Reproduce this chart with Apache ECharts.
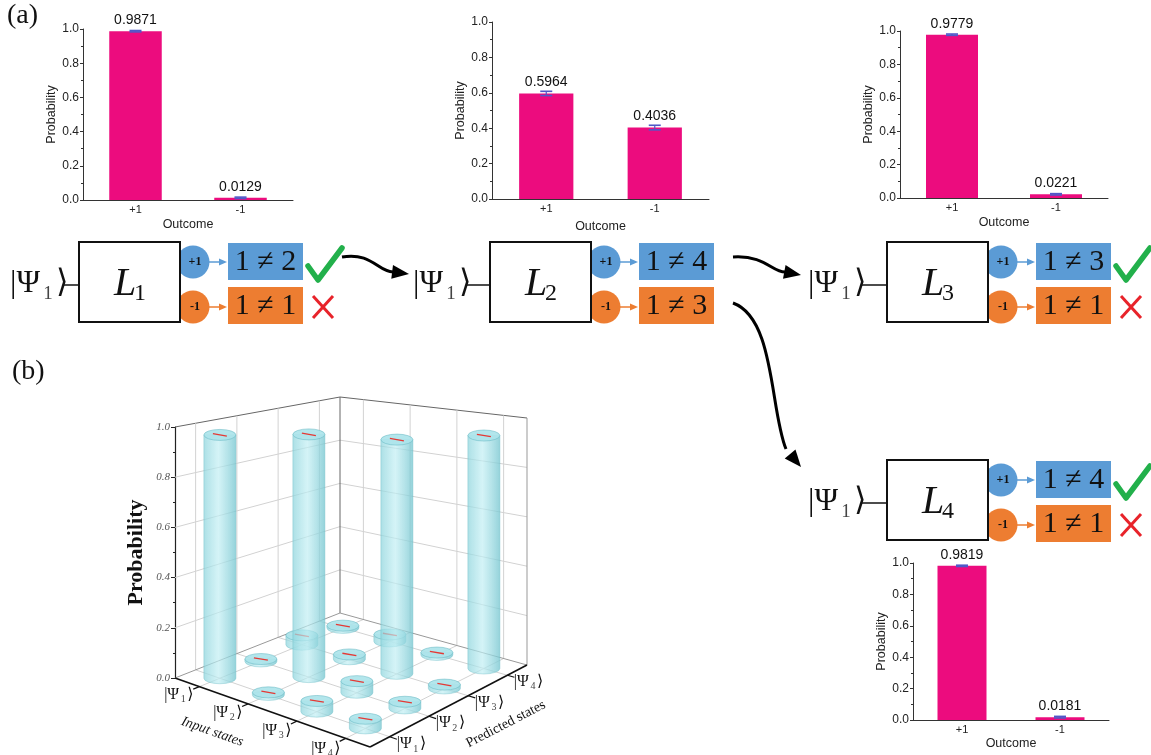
<!DOCTYPE html>
<html>
<head>
<meta charset="utf-8">
<title>Probability</title>
<script src="https://cdn.jsdelivr.net/npm/echarts/dist/echarts.min.js"></script>
<style>
  html, body { margin: 0; padding: 0; background: #fff; }
  #main { width: 1151px; height: 755px; }
</style>
</head>
<body>
<div id="main"></div>
<script>
// (a) outcome of each measurement L1..L4
var outcomes = ['+1', '-1'];
var probL1 = [0.9871, 0.0129];
var probL2 = [0.5964, 0.4036];
var probL3 = [0.9779, 0.0221];
var probL4 = [0.9819, 0.0181];
var errL1 = [0.004, 0.004];
var errL2 = [0.012, 0.013];
var errL3 = [0.004, 0.004];
var errL4 = [0.004, 0.005];
var probTicks = [0, 0.2, 0.4, 0.6, 0.8, 1.0];

// (b) input state (row) -> predicted state (column)
var inputStates = ['1', '2', '3', '4'];
var predictedStates = ['1', '2', '3', '4'];
var probRow1 = [0.97, 0.01, 0.04, 0.01];
var probRow2 = [0.01, 0.97, 0.02, 0.03];
var probRow3 = [0.04, 0.045, 0.94, 0.01];
var probRow4 = [0.035, 0.025, 0.015, 0.94];

var SANS = 'Liberation Sans, Arial, sans-serif';
var SERIF = 'Liberation Serif, DejaVu Serif, serif';
var PINK = '#EC0C7E';
var BLUE = '#5B9BD5';
var ORANGE = '#ED7D31';

// small bar charts, pixel boxes
var barGrids = [
  {left: 83, top: 29, width: 210, height: 171},
  {left: 492, top: 22, width: 217, height: 177},
  {left: 900, top: 31, width: 208, height: 167},
  {left: 913, top: 563, width: 196, height: 157}
];
var outcomeGaps = [18, 21, 18, 17];

// floor of the 3d plot (corners of the perspective quad)
var floorL = [175, 678], floorF = [370, 747], floorR = [527, 665], floorB = [340, 613];
var unitPx = {L: 251, F: 285, R: 247, B: 216};

function quad(u, v, a, b, c, d) {
  var s = u / 4, t = v / 4;
  return (1 - s) * (1 - t) * a + s * (1 - t) * b + s * t * c + (1 - s) * t * d;
}
function floorPt(u, v) {
  return [quad(u, v, floorL[0], floorF[0], floorR[0], floorB[0]),
          quad(u, v, floorL[1], floorF[1], floorR[1], floorB[1])];
}
function unitRatio(u, v) {
  return quad(u, v, unitPx.L, unitPx.F, unitPx.R, unitPx.B) / unitPx.L;
}

var measureCtx = document.createElement('canvas').getContext('2d');
function textW(str, font) {
  measureCtx.font = font;
  return measureCtx.measureText(str).width;
}

// |Ψ_n⟩ as separate pieces so the index sits low like a real subscript
function ketParts(x, y, size, sub, centered) {
  var fb = size + 'px ' + SERIF, fs = Math.round(size * 0.6) + 'px ' + SERIF;
  var gap = size * 0.1;
  var w1 = textW('|Ψ', fb), w2 = textW(sub, fs), w3 = textW('⟩', fb);
  var x0 = centered ? x - (w1 + w2 + w3 + 2 * gap) / 2 : x;
  return [
    {type: 'text', x: x0, y: y, style: {text: '|Ψ', font: fb, fill: '#111', align: 'left', verticalAlign: 'middle'}},
    {type: 'text', x: x0 + w1 + gap, y: y + size * 0.3, style: {text: sub, font: fs, fill: '#444', align: 'left', verticalAlign: 'middle'}},
    {type: 'text', x: x0 + w1 + w2 + 2 * gap, y: y, style: {text: '⟩', font: fb, fill: '#111', align: 'left', verticalAlign: 'middle'}}
  ];
}

function barXAxis(k) {
  return {
    gridIndex: k, type: 'category', data: outcomes,
    axisLine: {lineStyle: {color: '#333'}},
    axisTick: {alignWithLabel: true, length: 3, lineStyle: {color: '#333'}},
    axisLabel: {fontSize: 11, color: '#222', margin: 4, fontFamily: SANS},
    name: 'Outcome', nameLocation: 'middle', nameGap: outcomeGaps[k],
    nameTextStyle: {fontSize: 12.5, color: '#222', fontFamily: SANS}
  };
}
function barYAxis(k) {
  return {
    gridIndex: k, type: 'value', min: probTicks[0], max: probTicks[probTicks.length - 1],
    interval: probTicks[1] - probTicks[0],
    axisLine: {show: true, lineStyle: {color: '#333'}},
    axisTick: {show: true, length: 3, lineStyle: {color: '#333'}},
    minorTick: {show: true, splitNumber: 2, length: 2, lineStyle: {color: '#333'}},
    splitLine: {show: false},
    axisLabel: {fontSize: 12, color: '#222', margin: 4, fontFamily: SANS,
      formatter: function (v) { return v.toFixed(1); }},
    name: 'Probability', nameLocation: 'middle', nameGap: 25,
    nameTextStyle: {fontSize: 12.5, color: '#222', fontFamily: SANS}
  };
}
function barSeries(k, probs) {
  return {
    type: 'bar', xAxisIndex: k, yAxisIndex: k, data: probs, barWidth: '50%',
    itemStyle: {color: PINK},
    label: {show: true, position: 'top', distance: 4, fontSize: 14, color: '#111', fontFamily: SANS,
      formatter: function (p) { return p.value.toFixed(4); }}
  };
}
function renderErr(params, api) {
  var x = api.value(0), y = api.value(1), e = api.value(2);
  var hi = api.coord([x, y + e]), lo = api.coord([x, y - e]);
  var c = '#4F58C8', w = 6;
  return {type: 'group', children: [
    {type: 'line', shape: {x1: hi[0], y1: hi[1], x2: lo[0], y2: lo[1]}, style: {stroke: c, lineWidth: 1.2}},
    {type: 'line', shape: {x1: hi[0] - w, y1: hi[1], x2: hi[0] + w, y2: hi[1]}, style: {stroke: c, lineWidth: 1.6}},
    {type: 'line', shape: {x1: lo[0] - w, y1: lo[1], x2: lo[0] + w, y2: lo[1]}, style: {stroke: c, lineWidth: 1.6}}
  ]};
}
function errSeries(k, probs, errs) {
  return {
    type: 'custom', xAxisIndex: k, yAxisIndex: k, z: 3,
    data: probs.map(function (p, i) { return [i, p, errs[i]]; }),
    renderItem: renderErr
  };
}

// 3d frame: walls, floor grid, state labels
function renderFrame(params, api) {
  var H = api.size([0, 1])[1];
  function p3(u, v, p) { var f = floorPt(u, v); return [f[0], f[1] - p * H * unitRatio(u, v)]; }
  var kids = [];
  function seg(a, b, color, w) {
    kids.push({type: 'line', shape: {x1: a[0], y1: a[1], x2: b[0], y2: b[1]}, style: {stroke: color, lineWidth: w}});
  }
  var gridC = '#d2d2d2', edge = '#666';
  probTicks.forEach(function (p) {
    if (p === 0) return;
    var c = p === 1 ? edge : gridC;
    seg(p3(0, 0, p), p3(0, 4, p), c, 1);
    seg(p3(0, 4, p), p3(4, 4, p), c, 1);
  });
  for (var k = 0; k < 4; k++) {
    var c = k + 0.5;
    seg(p3(0, c, 0), p3(0, c, 1), gridC, 1);
    seg(p3(c, 4, 0), p3(c, 4, 1), gridC, 1);
    seg(p3(c, 0, 0), p3(c, 4, 0), gridC, 1);
    seg(p3(0, c, 0), p3(4, c, 0), gridC, 1);
    seg(p3(c, 0, 0), p3(c, -0.15, 0), '#111', 1.2);
    seg(p3(4, c, 0), p3(4.15, c, 0), '#111', 1.2);
  }
  seg(p3(0, 4, 0), p3(0, 4, 1), edge, 1);
  seg(p3(4, 4, 0), p3(4, 4, 1), '#999', 1);
  seg(p3(0, 0, 0), p3(0, 4, 0), '#999', 1);
  seg(p3(0, 4, 0), p3(4, 4, 0), '#999', 1);
  seg(p3(0, 0, 0), p3(4, 0, 0), '#111', 1.6);
  seg(p3(4, 0, 0), p3(4, 4, 0), '#111', 1.6);

  inputStates.forEach(function (lab, i) {
    var q = p3(i + 0.5, -0.5, 0);
    kids = kids.concat(ketParts(q[0], q[1], 16, lab, true));
  });
  predictedStates.forEach(function (lab, j) {
    var q = p3(4.45, j + 0.5, 0);
    kids = kids.concat(ketParts(q[0], q[1], 16, lab, true));
  });
  var qi = p3(1.8, -1.25, 0), qp = p3(5.2, 2.0, 0);
  kids.push({type: 'text', x: qi[0], y: qi[1], rotation: -0.34,
    style: {text: 'Input states', align: 'center', verticalAlign: 'middle', font: 'italic 14px ' + SERIF, fill: '#111'}});
  kids.push({type: 'text', x: qp[0], y: qp[1], rotation: 0.48,
    style: {text: 'Predicted states', align: 'center', verticalAlign: 'middle', font: '14px ' + SERIF, fill: '#111'}});
  return {type: 'group', children: kids};
}

// cylinders, drawn back to front
var probMatrix = [probRow1, probRow2, probRow3, probRow4];
var cylData = [];
probMatrix.forEach(function (row, i) {
  row.forEach(function (p, j) { cylData.push([i, j, p]); });
});
cylData.sort(function (a, b) { return floorPt(a[0] + 0.5, a[1] + 0.5)[1] - floorPt(b[0] + 0.5, b[1] + 0.5)[1]; });

function renderCylinder(params, api) {
  var u = api.value(0) + 0.5, v = api.value(1) + 0.5, p = api.value(2);
  var base = floorPt(u, v);
  var h = api.size([0, p])[1] * unitRatio(u, v);
  var cx = base[0], by = base[1], ty = by - h;
  var rx = 16, ry = 5.5, z = params.dataIndex * 10;
  var body = 'M' + (cx - rx) + ' ' + ty + ' L' + (cx + rx) + ' ' + ty + ' L' + (cx + rx) + ' ' + by +
    ' A' + rx + ' ' + ry + ' 0 0 1 ' + (cx - rx) + ' ' + by + ' Z';
  var top = 'M' + (cx - rx) + ' ' + ty + ' A' + rx + ' ' + ry + ' 0 1 0 ' + (cx + rx) + ' ' + ty +
    ' A' + rx + ' ' + ry + ' 0 1 0 ' + (cx - rx) + ' ' + ty + ' Z';
  var grad = new echarts.graphic.LinearGradient(0, 0, 1, 0, [
    {offset: 0, color: 'rgba(140,212,220,0.72)'},
    {offset: 0.45, color: 'rgba(192,238,243,0.68)'},
    {offset: 1, color: 'rgba(118,198,208,0.78)'}
  ]);
  return {type: 'group', children: [
    {type: 'path', z2: z, shape: {pathData: body}, style: {fill: grad, stroke: 'rgba(110,190,200,0.7)', lineWidth: 0.6}},
    {type: 'path', z2: z + 1, shape: {pathData: top}, style: {fill: 'rgba(172,228,234,0.92)', stroke: 'rgba(105,185,196,0.8)', lineWidth: 0.7}},
    {type: 'line', z2: z + 2, shape: {x1: cx - 7, y1: ty - 1.2, x2: cx + 7, y2: ty + 1.2}, style: {stroke: '#E53935', lineWidth: 1.3}}
  ]};
}

// diagram pieces
function arrowHead(tip, from, len, hw) {
  var dx = tip[0] - from[0], dy = tip[1] - from[1], l = Math.sqrt(dx * dx + dy * dy);
  var ux = dx / l, uy = dy / l, bx = tip[0] - ux * len, by = tip[1] - uy * len;
  return [tip, [bx - uy * hw, by + ux * hw], [bx + uy * hw, by - ux * hw]];
}

function stage(ketX, boxX, boxY, sub, plusText, minusText, marks) {
  var els = [];
  var boxR = boxX + 101, rectX = boxX + 149;
  var cyB = boxY + 20, cyO = boxY + 65, midY = boxY + 42;
  els = els.concat(ketParts(ketX, midY, 32, '1', false));
  els.push({type: 'line', shape: {x1: ketX + 54, y1: midY + 1, x2: boxX, y2: midY + 1}, style: {stroke: '#111', lineWidth: 1.5}});
  [[cyB, BLUE, '+1', plusText], [cyO, ORANGE, '-1', minusText]].forEach(function (r, n) {
    var cy = r[0], col = r[1];
    els.push({type: 'circle', shape: {cx: boxR + 13, cy: cy, r: 16.5}, style: {fill: col}});
    els.push({type: 'text', x: boxR + 15, y: cy, z: 5, style: {text: r[2], align: 'center', verticalAlign: 'middle', font: 'bold 12px ' + SERIF, fill: '#111'}});
    els.push({type: 'line', shape: {x1: boxR + 28, y1: cy, x2: rectX - 6, y2: cy}, style: {stroke: col, lineWidth: 1.5}});
    els.push({type: 'polygon', shape: {points: arrowHead([rectX - 1, cy], [rectX - 10, cy], 8, 3.5)}, style: {fill: col}});
    els.push({type: 'rect', shape: {x: rectX, y: n === 0 ? boxY + 1 : boxY + 45, width: 75, height: 37}, style: {fill: col}});
    els.push({type: 'text', x: rectX + 37.5, y: (n === 0 ? boxY + 1 : boxY + 45) + 19, z: 5,
      style: {text: r[3], align: 'center', verticalAlign: 'middle', font: '30px ' + SERIF, fill: '#111'}});
  });
  els.push({type: 'rect', z: 4, shape: {x: boxX, y: boxY, width: 101, height: 80}, style: {fill: '#fff', stroke: '#111', lineWidth: 2}});
  var fl = 'italic 40px ' + SERIF, fsub = '24px ' + SERIF;
  var wl = textW('L', fl), ws = textW(sub, fsub), lx = boxX + 50 - (wl + ws) / 2 + 2;
  els.push({type: 'text', x: lx, y: boxY + 42, z: 5, style: {text: 'L', font: fl, fill: '#111', align: 'left', verticalAlign: 'middle'}});
  els.push({type: 'text', x: lx + wl - 2, y: boxY + 52, z: 5, style: {text: sub, font: fsub, fill: '#111', align: 'left', verticalAlign: 'middle'}});
  if (marks) {
    var mx = rectX + 78, my = boxY + 3;
    els.push({type: 'polyline', shape: {points: [[mx + 2, my + 21], [mx + 12, my + 35], [mx + 36, my + 3]]},
      style: {stroke: '#22B04B', lineWidth: 5.5, lineCap: 'round', lineJoin: 'round', fill: 'none'}});
    var xc = rectX + 95, yc = cyO;
    els.push({type: 'line', shape: {x1: xc - 10, y1: yc - 11, x2: xc + 10, y2: yc + 11}, style: {stroke: '#E8232A', lineWidth: 3}});
    els.push({type: 'line', shape: {x1: xc + 10, y1: yc - 11, x2: xc - 10, y2: yc + 11}, style: {stroke: '#E8232A', lineWidth: 3}});
  }
  return els;
}

function curve(p0, c1, c2, p1, tip) {
  return [
    {type: 'bezierCurve', shape: {x1: p0[0], y1: p0[1], cpx1: c1[0], cpy1: c1[1], cpx2: c2[0], cpy2: c2[1], x2: p1[0], y2: p1[1]},
      style: {stroke: '#000', lineWidth: 3, fill: 'none'}},
    {type: 'polygon', shape: {points: arrowHead(tip, p1, 17, 7)}, style: {fill: '#000'}}
  ];
}

var graphics = [].concat(
  [{type: 'text', x: 7, y: 2, style: {text: '(a)', font: '28px ' + SERIF, fill: '#111'}},
   {type: 'text', x: 12, y: 358, style: {text: '(b)', font: '28px ' + SERIF, fill: '#111'}}],
  stage(10, 79, 242, '1', '1 ≠ 2', '1 ≠ 1', true),
  stage(413, 490, 242, '2', '1 ≠ 4', '1 ≠ 3', false),
  stage(808, 887, 242, '3', '1 ≠ 3', '1 ≠ 1', true),
  stage(808, 887, 460, '4', '1 ≠ 4', '1 ≠ 1', true),
  curve([342, 257], [372, 252], [378, 272], [393, 272], [409, 274]),
  curve([733, 257], [765, 255], [772, 272], [785, 272], [801, 275]),
  curve([733, 303], [775, 318], [770, 410], [786, 449], [801, 467])
);

var option = {
  animation: false,
  grid: barGrids.concat([{left: 175, top: 427, width: 20, height: 251}]),
  xAxis: [barXAxis(0), barXAxis(1), barXAxis(2), barXAxis(3),
    {gridIndex: 4, type: 'value', min: 0, max: 1, show: false}],
  yAxis: [barYAxis(0), barYAxis(1), barYAxis(2), barYAxis(3),
    {gridIndex: 4, type: 'value', min: probTicks[0], max: probTicks[probTicks.length - 1], interval: 0.2,
     axisLine: {show: true, lineStyle: {color: '#222', width: 1.2}},
     axisTick: {show: true, length: 4, lineStyle: {color: '#222'}},
     minorTick: {show: true, splitNumber: 2, length: 2, lineStyle: {color: '#222'}},
     splitLine: {show: false},
     axisLabel: {fontSize: 11, fontStyle: 'italic', fontFamily: SERIF, color: '#555', margin: 5,
       formatter: function (v) { return v.toFixed(1); }},
     name: 'Probability', nameLocation: 'middle', nameGap: 28,
     nameTextStyle: {fontSize: 22, fontWeight: 'bold', fontFamily: SERIF, color: '#111'}}],
  series: [
    barSeries(0, probL1), errSeries(0, probL1, errL1),
    barSeries(1, probL2), errSeries(1, probL2, errL2),
    barSeries(2, probL3), errSeries(2, probL3, errL3),
    barSeries(3, probL4), errSeries(3, probL4, errL4),
    {type: 'custom', xAxisIndex: 4, yAxisIndex: 4, z: 1, clip: false, silent: true,
     data: [[0, 0]], renderItem: renderFrame},
    {type: 'custom', xAxisIndex: 4, yAxisIndex: 4, z: 2, clip: false,
     data: cylData, encode: {x: -1, y: 2}, renderItem: renderCylinder}
  ],
  graphic: {elements: graphics}
};

var chart = echarts.init(document.getElementById('main'), null, {renderer: 'canvas'});
chart.setOption(option);
</script>
</body>
</html>
